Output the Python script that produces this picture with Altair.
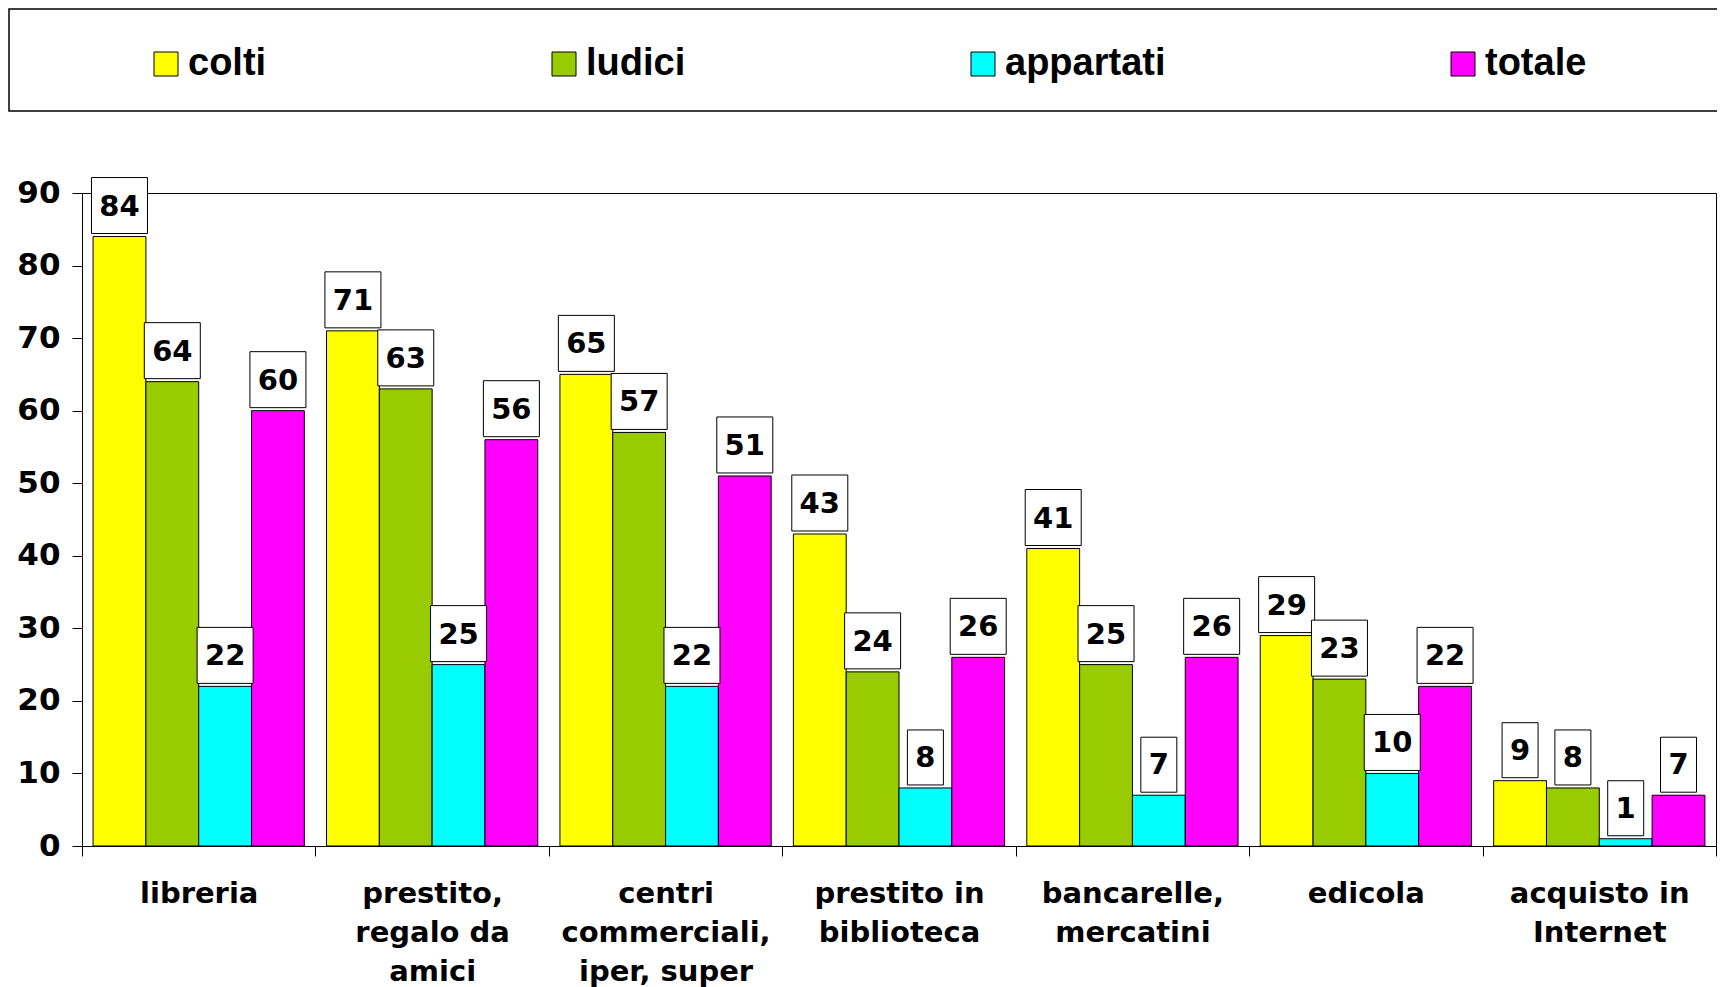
import altair as alt
import pandas as pd

categories = [
    "libreria",
    "prestito,\nregalo da\namici",
    "centri\ncommerciali,\niper, super",
    "prestito in\nbiblioteca",
    "bancarelle,\nmercatini",
    "edicola",
    "acquisto in\nInternet",
]
series = ["colti", "ludici", "appartati", "totale"]
colti = [84, 71, 65, 43, 41, 29, 9]
ludici = [64, 63, 57, 24, 25, 23, 8]
appartati = [22, 25, 22, 8, 7, 10, 1]
totale = [60, 56, 51, 26, 26, 22, 7]
colors = ["#FFFF00", "#99CC00", "#00FFFF", "#FF00FF"]

rows = []
for i, c in enumerate(categories):
    for s, vals in zip(series, [colti, ludici, appartati, totale]):
        v = vals[i]
        rows.append({"cat": c, "serie": s, "val": v, "digits": str(len(str(v)))})
df = pd.DataFrame(rows)

W, H = 1634, 653
NUMFONT = "DejaVu Sans"

x = alt.X(
    "cat:N",
    sort=categories,
    scale=alt.Scale(paddingInner=0, paddingOuter=0),
    axis=alt.Axis(
        title=None, labelAngle=0, tickBand="extent", tickSize=10, tickColor="black",
        domainColor="black", labelPadding=23, labelFont=NUMFONT, labelFontSize=29,
        labelFontWeight="bold", labelLineHeight=39, labelColor="black", labelLimit=400,
        labelOverlap=False, labelExpr="split(datum.label, '\\n')",
    ),
)
xo = alt.XOffset("serie:N", sort=series, scale=alt.Scale(paddingInner=0, paddingOuter=0.21))
y = alt.Y(
    "val:Q",
    scale=alt.Scale(domain=[0, 90], nice=False, zero=True),
    axis=alt.Axis(
        title=None, values=list(range(0, 91, 10)), grid=False, tickSize=10,
        tickColor="black", domainColor="black", labelPadding=12, labelFont=NUMFONT,
        labelFontSize=31, labelFontWeight="bold", labelColor="black",
    ),
)

frame = alt.Chart(alt.Data(values=[{}])).mark_rect(
    fill="white", stroke="black", strokeWidth=1.5
).encode(
    x=alt.value(-73), x2=alt.value(W + 40), y=alt.value(-184), y2=alt.value(-82)
)

bars = alt.Chart(df).mark_bar(stroke="black", strokeWidth=1).encode(
    x=x, xOffset=xo, y=y,
    color=alt.Color(
        "serie:N", sort=series,
        scale=alt.Scale(domain=series, range=colors),
        legend=alt.Legend(
            title=None, orient="none", legendX=65, legendY=-148, direction="horizontal",
            symbolType="square", symbolSize=576, symbolStrokeColor="black",
            symbolStrokeWidth=1, symbolOpacity=1, labelFont="Liberation Sans",
            labelFontSize=38, labelFontWeight="bold", labelColor="black",
            labelOffset=3, columnPadding=278, labelLimit=400,
        ),
    ),
)

p1 = "M-18,-3L18,-3L18,-58L-18,-58Z"
p2 = "M-28,-3L28,-3L28,-59L-28,-59Z"
boxes = alt.Chart(df).mark_point(
    filled=True, fill="white", stroke="black", strokeWidth=1, size=4, opacity=1
).encode(
    x=x, xOffset=xo, y=y,
    shape=alt.Shape("digits:N", scale=alt.Scale(domain=["1", "2"], range=[p1, p2]), legend=None),
)

labels = alt.Chart(df).mark_text(
    font=NUMFONT, fontWeight="bold", fontSize=29, dy=-30, baseline="middle", color="black"
).encode(x=x, xOffset=xo, y=y, text="val:Q")

chart = alt.layer(frame, bars, boxes, labels).properties(
    width=W, height=H,
    autosize=alt.AutoSizeParams(type="none"),
    padding={"left": 74, "top": 185, "right": 1, "bottom": 141},
).configure_view(stroke="black", strokeWidth=1)

chart.save("out.html", embed_options={"renderer": "svg", "actions": False})
